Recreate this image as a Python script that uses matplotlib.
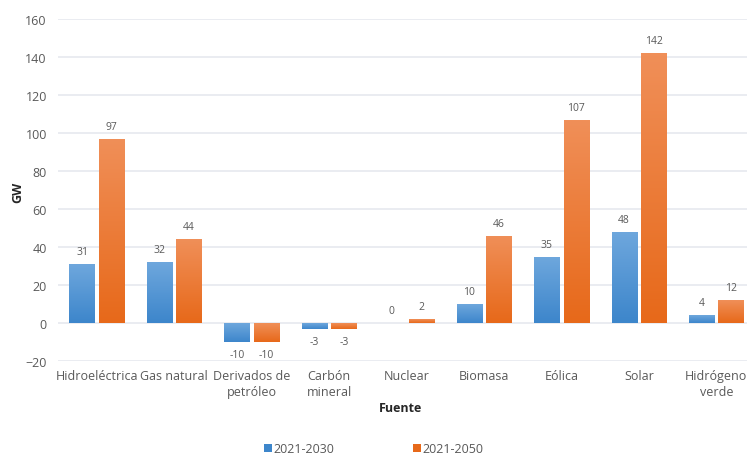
import numpy as np
import matplotlib
matplotlib.use("Agg")
import matplotlib.pyplot as plt
from matplotlib.colors import LinearSegmentedColormap
from matplotlib.patches import Patch

categories = ["Hidroeléctrica", "Gas natural", "Derivados de\npetróleo", "Carbón\nmineral",
              "Nuclear", "Biomasa", "Eólica", "Solar", "Hidrógeno\nverde"]
values_2030 = [31, 32, -10, -3, 0, 10, 35, 48, 4]
values_2050 = [97, 44, -10, -3, 2, 46, 107, 142, 12]
series_names = ["2021-2030", "2021-2050"]
yticks = [-20, 0, 20, 40, 60, 80, 100, 120, 140, 160]

plt.rcParams["font.family"] = ["Open Sans", "DejaVu Sans"]
text_color = "#595959"

fig = plt.figure(figsize=(7.47, 4.56), dpi=100)
# plot area: left edge at x=58px, runs slightly past the right edge of the figure
ax = fig.add_axes([58 / 747, 1 - 362 / 456, 697 / 747, (362 - 20) / 456])

n = len(categories)
x = np.arange(n)
bw = 0.325
off = 0.19

grad_colors = [("#6ea7dd", "#3d86cb"), ("#f08f58", "#e7691a")]


def gradient_bars(bars, top_c, bot_c):
    cmap = LinearSegmentedColormap.from_list("g", [bot_c, top_c])
    grad = np.linspace(0, 1, 64).reshape(-1, 1)
    for b in bars:
        bx, by = b.get_x(), b.get_y()
        w, h = b.get_width(), b.get_height()
        if h == 0:
            b.set_visible(False)
            continue
        y0, y1 = min(by, by + h), max(by, by + h)
        b.set_facecolor("none")
        b.set_edgecolor("none")
        im = ax.imshow(grad, cmap=cmap, origin="lower", aspect="auto",
                       extent=(bx, bx + w, y0, y1), zorder=2, interpolation="bilinear")
        im.set_clip_path(b)


bars_a = ax.bar(x - off, values_2030, width=bw, zorder=2)
bars_b = ax.bar(x + off, values_2050, width=bw, zorder=2)
gradient_bars(bars_a, *grad_colors[0])
gradient_bars(bars_b, *grad_colors[1])

for xs, vals in ((x - off, values_2030), (x + off, values_2050)):
    for xi, v in zip(xs, vals):
        if v >= 0:
            ax.annotate(f"{v}", (xi, v), xytext=(0, 5), textcoords="offset points",
                        ha="center", va="bottom", fontsize=7.5, color=text_color)
        else:
            ax.annotate(f"{v}", (xi, v), xytext=(0, -5), textcoords="offset points",
                        ha="center", va="top", fontsize=7.5, color=text_color)

ax.set_xlim(-0.5, n - 0.5)
ax.set_ylim(-20, 160)
ax.set_yticks(yticks)
ax.set_xticks(x)
ax.set_xticklabels(categories, fontsize=9, color=text_color, linespacing=1.25)
ax.tick_params(axis="y", labelsize=9, labelcolor=text_color, length=0, pad=8)
ax.tick_params(axis="x", length=0, pad=6)
ax.grid(axis="y", color="#e6e9ef", linewidth=1.2, zorder=0)
ax.set_axisbelow(True)
for s in ax.spines.values():
    s.set_visible(False)

fig.text(18 / 747, 1 - 192 / 456, "GW", rotation=90, ha="center", va="center",
         fontsize=9, fontweight="bold", color="#262626")
fig.text(400 / 747, 1 - 409 / 456, "Fuente", ha="center", va="center",
         fontsize=9, fontweight="bold", color="#262626")

handles = [Patch(facecolor=grad_colors[0][1]), Patch(facecolor=grad_colors[1][1])]
fig.legend(handles, series_names, loc="center", bbox_to_anchor=(374 / 747, 1 - 450 / 456),
           ncol=2, frameon=False, fontsize=9, labelcolor=text_color,
           handlelength=0.6, handleheight=0.6, handletextpad=0.15, columnspacing=6.3)

fig.savefig("out.png", dpi=100)
